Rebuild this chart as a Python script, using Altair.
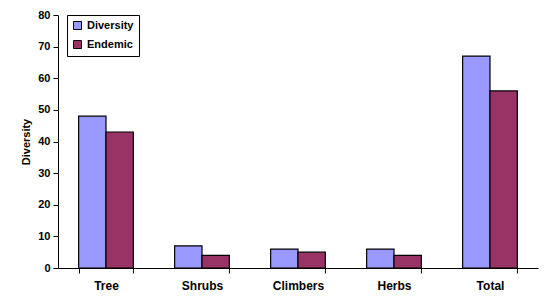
import altair as alt
import pandas as pd

categories = ["Tree", "Shrubs", "Climbers", "Herbs", "Total"]
diversity = [48, 7, 6, 6, 67]
endemic = [43, 4, 5, 4, 56]
series = ["Diversity", "Endemic"]
colors = ["#9999FF", "#993366"]

rows = []
for c, d, e in zip(categories, diversity, endemic):
    rows.append({"cat": c, "series": "Diversity", "value": d})
    rows.append({"cat": c, "series": "Endemic", "value": e})
df = pd.DataFrame(rows)

font = "Liberation Sans"

chart = alt.Chart(df).mark_bar(stroke="black", strokeWidth=1.2).encode(
    x=alt.X("cat:N", sort=categories, title=None,
            scale=alt.Scale(paddingInner=0.43, paddingOuter=0.215),
            axis=alt.Axis(labelAngle=0, tickBand="extent", labelFontSize=12,
                          labelFontWeight="bold", labelFont=font, labelColor="black",
                          domainColor="black", tickColor="black", tickSize=5,
                          labelPadding=7)),
    xOffset=alt.XOffset("series:N", sort=series,
                        scale=alt.Scale(paddingInner=0, paddingOuter=0)),
    y=alt.Y("value:Q", title="Diversity",
            scale=alt.Scale(domain=[0, 80], nice=False),
            axis=alt.Axis(values=list(range(0, 81, 10)), grid=False,
                          labelFontSize=11, labelFontWeight="bold", labelFont=font,
                          labelColor="black", domainColor="black", tickColor="black",
                          tickSize=5, labelPadding=3, titleFont=font, titleFontSize=11,
                          titleFontWeight="bold", titleColor="black", titlePadding=6)),
    color=alt.Color("series:N", sort=series,
                    scale=alt.Scale(domain=series, range=colors),
                    legend=alt.Legend(title=None, orient="none", legendX=9, legendY=0,
                                      symbolType="square", symbolStrokeColor="black",
                                      symbolStrokeWidth=1, symbolSize=64,
                                      labelOffset=4,
                                      labelFont=font, labelFontSize=11,
                                      labelFontWeight="bold", labelColor="black",
                                      strokeColor="black", padding=5, rowPadding=6,
                                      fillColor="white")),
).properties(
    width=480, height=253,
    autosize=alt.AutoSizeParams(type="none"),
    padding={"left": 58, "top": 15, "right": 13, "bottom": 33},
).configure_view(stroke=None)

chart.save("out.html", embed_options={"renderer": "svg", "actions": False})
